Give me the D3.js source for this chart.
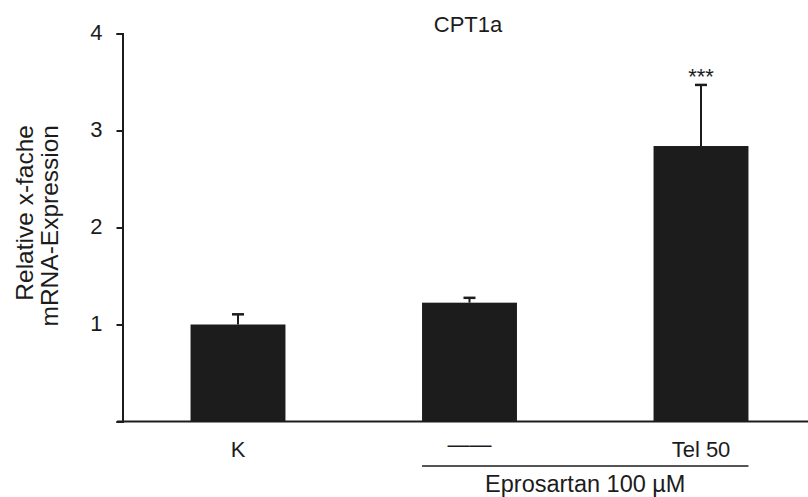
<!DOCTYPE html>
<html>
<head>
<meta charset="utf-8">
<script src="https://cdn.jsdelivr.net/npm/d3@7"></script>
<style>
  html, body { margin: 0; padding: 0; background: #fff; }
  svg { display: block; font-family: Arial, "Liberation Sans", sans-serif; }
</style>
</head>
<body>
<div id="chart"></div>
<script>
// data
var categories = ["K", "——", "Tel 50"];
var values = [1.0, 1.225, 2.84];
var errors = [0.105, 0.05, 0.63];
var marks = ["", "", "***"];
var yTicks = [0, 1, 2, 3, 4];
var title = "CPT1a";
var yLabel = ["Relative x-fache", "mRNA-Expression"];
var groupLabel = "Eprosartan 100 µM";
var groupCats = ["——", "Tel 50"];

var W = 808, H = 497;
var ink = "#1c1c1c";

var svg = d3.select("#chart").append("svg")
    .attr("width", W)
    .attr("height", H);

var y = d3.scaleLinear().domain([0, 4]).range([421.5, 33.5]);
var x = d3.scaleBand().domain(categories)
    .range([122.25, 816.75])
    .paddingInner(0.59)
    .paddingOuter(0.295);

//y軸
var gy = svg.append("g")
    .attr("transform", "translate(122.5,0)")
    .call(d3.axisLeft(y).tickValues(yTicks).tickSizeOuter(0).tickSize(6).tickPadding(14)
        .tickFormat(function(d){ return d === 0 ? "" : d; }));
gy.select(".domain").attr("stroke", ink).attr("stroke-width", 2);
gy.selectAll(".tick line").attr("stroke", ink).attr("stroke-width", 2);
gy.selectAll(".tick text")
    .attr("fill", ink)
    .attr("dy", "0.25em")
    .attr("font-size", "22px")
    .attr("font-family", "Arial, 'Liberation Sans', sans-serif");

//x軸線
svg.append("line")
    .attr("x1", 117).attr("x2", W)
    .attr("y1", y(0)).attr("y2", y(0))
    .attr("stroke", ink).attr("stroke-width", 2);

//bars
var idx = d3.range(categories.length);
svg.append("g").selectAll("rect")
    .data(idx).join("rect")
    .attr("x", function(i){ return x(categories[i]); })
    .attr("y", function(i){ return y(values[i]); })
    .attr("width", x.bandwidth())
    .attr("height", function(i){ return y(0) - y(values[i]); })
    .attr("fill", ink);

//誤差線
var eg = svg.append("g").attr("stroke", ink);
idx.forEach(function(i){
    var cx = x(categories[i]) + x.bandwidth() / 2;
    var top = y(values[i] + errors[i]);
    eg.append("line")
        .attr("x1", cx).attr("x2", cx)
        .attr("y1", y(values[i])).attr("y2", top)
        .attr("stroke-width", 2);
    eg.append("line")
        .attr("x1", cx - 6).attr("x2", cx + 6)
        .attr("y1", top).attr("y2", top)
        .attr("stroke-width", 2.5);
    if (marks[i]) {
        svg.append("text")
            .attr("x", cx)
            .attr("y", top - 1)
            .attr("text-anchor", "middle")
            .attr("font-size", "22px")
            .attr("fill", ink)
            .text(marks[i]);
    }
});

//x labels
svg.append("g").selectAll("text")
    .data(categories).join("text")
    .attr("x", function(d){ return x(d) + x.bandwidth() / 2; })
    .attr("y", function(d){ return d === "——" ? 452 : 456.5; })
    .attr("text-anchor", "middle")
    .attr("font-size", "22px")
    .attr("fill", ink)
    .text(function(d){ return d; });

//群組
var gx1 = x(groupCats[0]);
var gx2 = x(groupCats[groupCats.length - 1]) + x.bandwidth();
svg.append("line")
    .attr("x1", gx1).attr("x2", gx2)
    .attr("y1", 466).attr("y2", 466)
    .attr("stroke", ink).attr("stroke-width", 1.5);
svg.append("text")
    .attr("x", (gx1 + gx2) / 2)
    .attr("y", 491.5)
    .attr("text-anchor", "middle")
    .attr("font-size", "23.5px")
    .attr("fill", ink)
    .text(groupLabel);

//title
svg.append("text")
    .attr("x", 468)
    .attr("y", 31.5)
    .attr("text-anchor", "middle")
    .attr("font-size", "22px")
    .attr("fill", ink)
    .text(title);

//y label
svg.append("text")
    .attr("transform", "translate(33,125) rotate(-90)")
    .attr("text-anchor", "end")
    .attr("font-size", "24.5px")
    .attr("fill", ink)
    .selectAll("tspan")
    .data(yLabel).join("tspan")
    .attr("x", 0)
    .attr("y", function(d, i){ return i * 25; })
    .text(function(d){ return d; });
</script>
</body>
</html>
